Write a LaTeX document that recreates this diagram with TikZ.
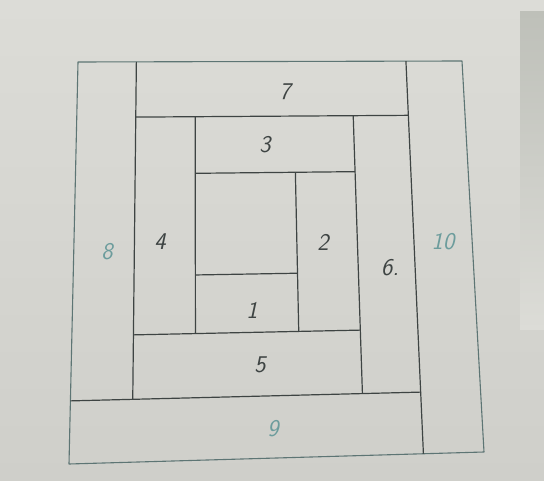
\documentclass[tikz,border=0pt]{standalone}
\usepackage{xcolor}
\usepackage{tikz}
\definecolor{paper}{HTML}{DCDCD7}
\definecolor{paperlow}{HTML}{CFCFCA}
\definecolor{foil}{HTML}{BEC0B9}
\definecolor{ink}{HTML}{3E4443}
\definecolor{rimink}{HTML}{5D7574}
\definecolor{tealink}{HTML}{6C9C9C}
\tikzset{
  seam/.style={draw=ink, line width=1.2pt},
  rim/.style={draw=rimink, line width=1.1pt, line join=round},
  num/.style={font=\sffamily\itshape\fontsize{24}{28}\selectfont, text=ink},
  numb/.style={num, text=tealink}
}
% point (u,v) of the block, bent like the photo
\newcommand{\gp}[3]{%
  \pgfmathsetmacro\gx{(1-#3)*((1-#2)*78+#2*462)+#3*((1-#2)*69+#2*484)}%
  \pgfmathsetmacro\gy{(1-#3)*((1-#2)*62+#2*61)+#3*((1-#2)*464+#2*452)}%
  \coordinate (#1) at (\gx,\gy);}
\begin{document}
\begin{tikzpicture}[x=1pt, y=-1pt]
  % paper
  \shade[top color=paper, bottom color=paperlow] (0,0) rectangle (544,481);
  \shade[top color=foil, bottom color=paper] (520,12) rectangle (544,330);
  \useasboundingbox (0,0) rectangle (544,481);

  % grid points
  \gp{tl}{0}{0} \gp{tr}{1}{0} \gp{br}{1}{1} \gp{bl}{0}{1}
  \gp{a0}{0.152}{0} \gp{a1}{0.152}{0.138} \gp{a2}{0.152}{0.682} \gp{a3}{0.152}{0.843}
  \gp{b0}{0.854}{0} \gp{b1}{0.854}{0.138} \gp{b3}{0.854}{0.843} \gp{b4}{0.854}{1}
  \gp{l3}{0}{0.843}
  \gp{c1}{0.305}{0.138} \gp{c2}{0.305}{0.28} \gp{c3}{0.305}{0.535} \gp{c4}{0.305}{0.682}
  \gp{d2}{0.56}{0.28} \gp{d3}{0.56}{0.535} \gp{d4}{0.56}{0.682}
  \gp{e1}{0.712}{0.138} \gp{e2}{0.712}{0.28} \gp{e4}{0.712}{0.682} \gp{e5}{0.712}{0.843}

  % seams
  \draw[rim] (tl) -- (tr) -- (br) -- (bl) -- cycle;
  \foreach \p/\q in {a0/a3, b0/b4, l3/b3, a1/b1, c1/c4, c2/e2, c3/d3, d2/d4, e1/e5, a2/e4}
    \draw[seam] (\p) -- (\q);

  % piece numbers
  \node[num] (n1) at (252,310) {1};
  \node[num] (n2) at (323,242) {2};
  \node[num] (n3) at (265,145) {3};
  \node[num] (n4) at (160,242) {4};
  \node[num] (n5) at (260,365) {5};
  \node[num] (n6) at (390,268) {6.};
  \node[num] (n7) at (285,92) {7};
  \node[numb] (n8) at (107,252) {8};
  \node[numb] (n9) at (273,429) {9};
  \node[numb] (n10) at (443,242) {10};
\end{tikzpicture}
\end{document}
